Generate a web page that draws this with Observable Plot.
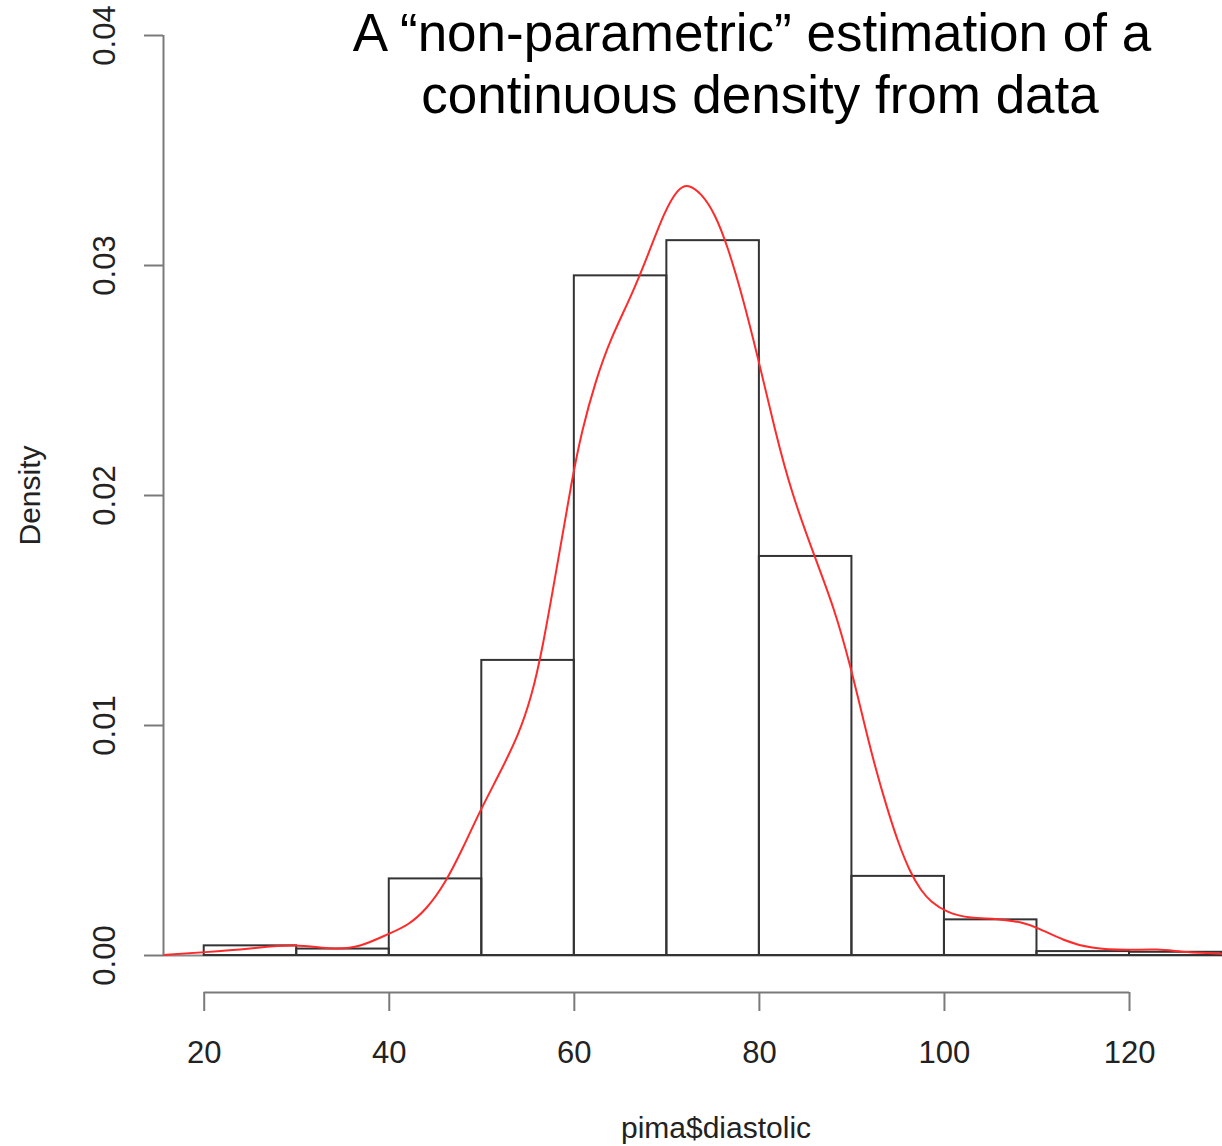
<!DOCTYPE html>
<html><head><meta charset="utf-8">
<script src="https://cdn.jsdelivr.net/npm/d3@7"></script>
<script src="https://cdn.jsdelivr.net/npm/@observablehq/plot@0.6"></script>
<style>
body{margin:0;background:#fff;}
#wrap{position:relative;width:1222px;height:1146px;overflow:hidden;}
.t{position:absolute;width:1000px;text-align:center;font-family:"Liberation Sans",Arial,sans-serif;font-size:53px;line-height:62px;color:#000;white-space:nowrap;}
</style></head><body>
<div id="wrap"><div id="chart"></div>
<div class="t" style="left:252px;top:2px">A “non-parametric” estimation of a</div>
<div class="t" style="left:260px;top:64px">continuous density from data</div>
</div>
<script>
// Histogram bins (pima$diastolic)
const binLo = [20, 30, 40, 50, 60, 70, 80, 90, 100, 110, 120];
const binHi = [30, 40, 50, 60, 70, 80, 90, 100, 110, 120, 130];
const binDensity = [0.00042, 0.00028, 0.00333, 0.01283, 0.02955, 0.03108, 0.01735, 0.00344, 0.00155, 0.00017, 0.00014];

// Kernel density estimate
const curveX = [15.6, 20, 25, 29.8, 33.9, 36.8, 40, 42, 44, 46, 48, 49.7, 51.9, 54.0, 55.4, 56.5, 58.3, 59.7, 60.8, 62.3, 64.0, 66.2, 68.0, 69.8, 71.2, 72.3, 73.7, 75.2, 76.6, 78.0, 79.85, 81.7, 83.4, 86.0, 88.1, 89.9, 91.2, 92.5, 93.8, 95.0, 96.3, 97.5, 98.5, 100.3, 102.8, 105.7, 108.6, 110.0, 112.9, 115.7, 120, 122.9, 126.1, 130];
const curveY = [0.00002, 0.00014, 0.0003, 0.00051, 0.00026, 0.00035, 0.00096, 0.0013, 0.002, 0.0031, 0.0047, 0.0062, 0.0079, 0.0096, 0.0113, 0.0132, 0.0173, 0.0206, 0.0228, 0.025, 0.0269, 0.0287, 0.0305, 0.0324, 0.03335, 0.03355, 0.03315, 0.03226, 0.03078, 0.02891, 0.026, 0.0228, 0.0202, 0.0173, 0.0151, 0.0125, 0.0103, 0.0082, 0.0064, 0.0049, 0.0036, 0.0028, 0.00235, 0.00185, 0.00161, 0.00161, 0.00143, 0.00122, 0.00065, 0.0003, 0.00022, 0.0003, 0.00013, 0.00008];

const xTicks = [20, 40, 60, 80, 100, 120];
const yTicks = [0, 0.01, 0.02, 0.03, 0.04];
const xDomain = [15.6, 130.05];
const yDomain = [0, 0.04];
const xLabel = "pima$diastolic";
const yLabel = "Density";

const bins = binLo.map((lo, i) => ({lo, hi: binHi[i], d: binDensity[i]}));
const curve = curveX.map((x, i) => ({x, y: curveY[i]}));

const axisColor = "#7a7a7a";
const textColor = "#222";

const plot = Plot.plot({
  width: 1222, height: 1146,
  marginLeft: 163, marginRight: 0, marginTop: 35, marginBottom: 191,
  style: {fontFamily: "'Liberation Sans', Arial, sans-serif", fontSize: "31px", background: "transparent", overflow: "visible"},
  x: {domain: xDomain},
  y: {domain: yDomain},
  marks: [
    Plot.ruleY([0], {stroke: "#8a8a8a", strokeWidth: 2}),
    Plot.rect(bins, {x1: "lo", x2: "hi", y1: 0, y2: "d", fill: "none", stroke: "#333", strokeWidth: 2}),
    Plot.line(curve, {x: "x", y: "y", stroke: "#ff2a2a", strokeWidth: 2, curve: "basis"}),
    Plot.ruleX([xDomain[0]], {y1: yTicks[0], y2: yTicks[yTicks.length - 1], stroke: axisColor, strokeWidth: 2}),
    Plot.axisY(yTicks, {tickSize: 19, tickRotate: -90, tickFormat: d3.format(".2f"), tickPadding: 30, stroke: axisColor, strokeWidth: 2, fill: textColor, fontSize: 31}),
    Plot.ruleY([0], {x1: xTicks[0], x2: xTicks[xTicks.length - 1], dy: 37, stroke: axisColor, strokeWidth: 2}),
    Plot.axisX(xTicks, {tickSize: 19, dy: 37, tickPadding: 29, stroke: axisColor, strokeWidth: 2, fill: textColor, fontSize: 31}),
    Plot.text([xLabel], {frameAnchor: "bottom", dx: 23, dy: 182, fontSize: 30, fill: textColor}),
    Plot.text([yLabel], {frameAnchor: "left", rotate: -90, textAnchor: "middle", dx: -133, fontSize: 30, fill: textColor})
  ]
});
document.getElementById("chart").appendChild(plot);
</script>
</body></html>
